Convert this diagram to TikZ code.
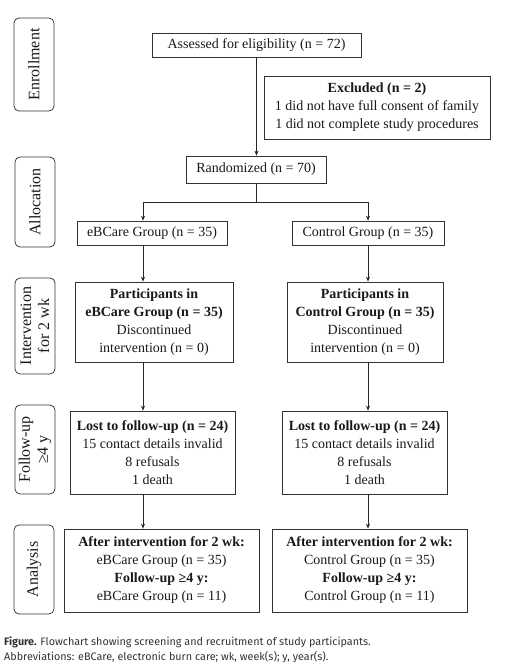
\documentclass[tikz,border=0pt]{standalone}
\usepackage{fontspec}
\setmainfont{Liberation Serif}
\newfontfamily\capfont{Fira Sans}
\usetikzlibrary{arrows.meta,calc}
\begin{document}
\begin{tikzpicture}[x=1pt,y=-1pt,
 box/.style={draw=black!80, line width=0.75pt, inner sep=0pt, align=center, font=\fontsize{14}{18}\selectfont, text=black!90},
 side/.style={draw=black!80, line width=0.75pt, rounded corners=5pt, inner sep=0pt, rotate=90, align=center, font=\fontsize{16}{18}\selectfont, text=black!90},
 arr/.style={-{Stealth[length=5pt,width=4pt]}, line width=0.75pt, draw=black!85},
 ln/.style={line width=0.75pt, draw=black!85},
 captext/.style={anchor=base west, inner sep=0pt, font=\capfont\fontsize{10.8}{12}\selectfont, text=black!80}]
\useasboundingbox (0,0) rectangle (512,665);
% side labels
\node[side, minimum width=93pt, minimum height=40pt] (enr) at (34,64.5) {Enrollment};
\node[side, minimum width=90pt, minimum height=40pt] (alloc) at (35,202) {Allocation};
\node[side, minimum width=96pt, minimum height=40pt] (interv) at (35,326) {Intervention\\for 2 wk};
\node[side, minimum width=89pt, minimum height=40pt] (follow) at (35,449.5) {Follow-up\\≥4 y};
\node[side, minimum width=89pt, minimum height=40pt] (anal) at (34,569.5) {Analysis};
% boxes
\node[box, minimum width=209pt, minimum height=24pt] (assess) at (256.5,45) {Assessed for eligibility (n = 72)};
\node[box, minimum width=226pt, minimum height=63pt] (excl) at (377,107.5) {\textbf{Excluded (n = 2)}\\1 did not have full consent of family\\1 did not complete study procedures};
\node[box, minimum width=140pt, minimum height=27pt] (rand) at (256,169.5) {Randomized (n = 70)};
\node[box, minimum width=150pt, minimum height=24pt] (ebg) at (152,233) {eBCare Group (n = 35)};
\node[box, minimum width=152pt, minimum height=24pt] (ctg) at (368,233) {Control Group (n = 35)};
\node[box, minimum width=158pt, minimum height=80pt] (pl) at (154,322) {\textbf{Participants in}\\\textbf{eBCare Group (n = 35)}\\Discontinued\\intervention (n = 0)};
\node[box, minimum width=156pt, minimum height=80pt] (pr) at (365,322) {\textbf{Participants in}\\\textbf{Control Group (n = 35)}\\Discontinued\\intervention (n = 0)};
\node[box, minimum width=165pt, minimum height=83pt] (ll) at (152.5,452.5) {\textbf{Lost to follow-up (n = 24)}\\15 contact details invalid\\8 refusals\\1 death};
\node[box, minimum width=165pt, minimum height=83pt] (lr) at (364.5,452.5) {\textbf{Lost to follow-up (n = 24)}\\15 contact details invalid\\8 refusals\\1 death};
\node[box, minimum width=195pt, minimum height=83pt] (al) at (161.5,570.5) {\textbf{After intervention for 2 wk:}\\eBCare Group (n = 35)\\\textbf{Follow-up ≥4 y:}\\eBCare Group (n = 11)};
\node[box, minimum width=195pt, minimum height=83pt] (ar) at (369.5,570.5) {\textbf{After intervention for 2 wk:}\\Control Group (n = 35)\\\textbf{Follow-up ≥4 y:}\\Control Group (n = 11)};
% connectors
\coordinate (split) at (256,202);
\coordinate (jl) at (143,202);
\coordinate (jr) at (368,202);
\draw[arr] (assess.south) -- (assess.south |- rand.north);
\draw[ln] (rand.south) -- (split);
\draw[arr] (split) -- (jl) -- (jl |- ebg.north);
\draw[arr] (split) -- (jr) -- (jr |- ctg.north);
\draw[arr] (ebg.south -| jl) -- (pl.north -| jl);
\draw[arr] (ctg.south -| jr) -- (pr.north -| jr);
\draw[arr] (pl.south -| jl) -- (ll.north -| jl);
\draw[arr] (pr.south -| jr) -- (lr.north -| jr);
\draw[arr] (ll.south -| jl) -- (al.north -| jl);
\draw[arr] (lr.south -| jr) -- (ar.north -| jr);
% caption
\node[captext] (cap1) at (4,645) {\textbf{Figure.} Flowchart showing screening and recruitment of study participants.};
\node[captext] (cap2) at (4,660) {Abbreviations: eBCare, electronic burn care; wk, week(s); y, year(s).};
\end{tikzpicture}
\end{document}
